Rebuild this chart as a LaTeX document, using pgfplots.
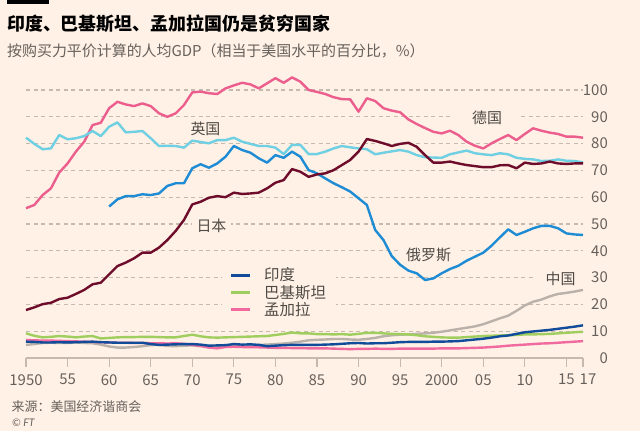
\documentclass[border=0pt]{standalone}
\usepackage{fontspec}
\setmainfont{Noto Sans CJK SC}
\newfontfamily\latinfont{Lato}
\usepackage{pgfplots}
\usepackage{pgfplotstable}
\pgfplotsset{compat=1.18}
\definecolor{bg}{HTML}{FFF1E5}
\definecolor{gridc}{HTML}{C6BAAF}
\definecolor{tickc}{HTML}{C6BAAF}
\definecolor{labc}{HTML}{66605C}
\definecolor{annc}{HTML}{4F4A46}
\definecolor{cde}{HTML}{EB5E8D}
\definecolor{cbd}{HTML}{F06AA0}
\definecolor{cuk}{HTML}{6FCFE3}
\definecolor{cru}{HTML}{1E8BD5}
\definecolor{cjp}{HTML}{6E0C2C}
\definecolor{cin}{HTML}{114C9A}
\definecolor{cpk}{HTML}{A0CE5E}
\definecolor{ccn}{HTML}{B9B1AA}

\pgfplotstableread{
year de uk jp ru in pk bd cn
1950 55.9 82.2 17.9 nan 6.1 9.2 6.7 4.9
1951 57.1 79.9 18.9 nan 6.0 8.3 6.6 5.2
1952 60.8 77.9 20.1 nan 5.8 7.7 6.5 5.6
1953 63.3 78.2 20.6 nan 5.8 7.9 6.5 5.7
1954 69.2 83.2 22.0 nan 5.9 8.2 6.4 5.6
1955 72.6 81.6 22.5 nan 5.8 8.0 6.3 5.6
1956 77.0 82.0 23.9 nan 5.9 7.7 6.2 5.8
1957 80.7 82.8 25.4 nan 6.0 8.0 6.1 5.6
1958 86.9 84.7 27.5 nan 6.1 8.2 6.0 5.5
1959 87.8 82.8 28.1 nan 5.9 7.3 5.9 5.0
1960 93.2 86.3 31.2 56.5 5.8 7.5 5.8 4.3
1961 95.6 87.9 34.3 59.2 5.7 7.7 5.7 3.9
1962 94.6 84.2 35.6 60.4 5.7 7.8 5.7 3.9
1963 94.0 84.4 37.2 60.4 5.7 7.8 5.6 4.1
1964 95.0 84.7 39.3 61.1 5.7 7.9 5.6 4.4
1965 94.0 82.0 39.3 60.8 5.2 7.9 5.5 4.8
1966 91.3 79.1 41.2 61.4 4.9 7.8 5.5 4.9
1967 90.0 79.2 44.0 64.2 5.0 7.7 5.4 4.5
1968 91.3 79.1 47.4 65.2 5.1 7.7 5.5 4.4
1969 94.4 78.5 51.5 65.2 5.2 8.2 5.3 4.6
1970 99.1 81.1 57.3 70.8 5.2 8.7 4.9 4.7
1971 99.4 80.6 58.3 72.3 5.0 8.1 4.5 4.4
1972 98.8 80.1 59.8 71.0 4.6 7.7 3.9 4.3
1973 98.5 81.3 60.4 72.6 4.7 7.6 3.6 4.4
1974 100.6 81.3 60.0 75.1 4.8 7.7 4.1 4.4
1975 101.7 82.2 61.7 79.1 5.2 7.8 4.2 4.5
1976 102.7 80.7 61.2 77.6 5.0 7.9 4.1 4.4
1977 102.1 79.9 61.4 76.6 5.1 8.0 4.0 4.6
1978 100.6 79.1 61.7 74.5 4.9 8.1 4.0 4.9
1979 102.5 79.1 63.3 72.9 4.4 8.2 3.9 5.0
1980 104.4 78.5 65.4 75.7 4.6 8.6 3.8 5.2
1981 102.7 76.1 66.4 74.7 4.8 9.0 3.8 5.4
1982 104.7 79.5 70.5 77.0 4.9 9.5 3.7 5.7
1983 103.1 79.5 69.5 75.1 4.9 9.2 3.7 6.1
1984 100.0 76.1 67.6 70.1 4.9 9.2 3.6 6.6
1985 99.3 76.1 68.5 68.9 4.9 8.9 3.6 6.8
1986 98.5 77.0 68.9 67.0 5.0 8.9 3.6 6.9
1987 97.3 78.2 70.1 65.2 5.1 8.8 3.5 7.1
1988 96.6 79.1 72.0 63.7 5.3 8.9 3.4 7.1
1989 96.5 78.6 73.9 62.1 5.5 8.7 3.3 6.9
1990 91.9 78.2 77.0 59.6 5.6 9.0 3.4 6.8
1991 96.9 77.9 81.7 57.1 5.4 9.4 3.4 7.1
1992 95.9 76.0 81.0 47.8 5.5 9.4 3.5 7.5
1993 93.2 76.6 80.1 44.0 5.5 9.2 3.4 8.1
1994 92.3 77.1 79.1 38.0 5.7 9.0 3.4 8.5
1995 91.7 77.6 79.9 34.8 5.9 8.9 3.5 8.7
1996 89.0 77.0 80.3 32.6 6.0 8.8 3.5 8.8
1997 87.3 75.7 78.8 31.6 6.0 8.5 3.5 9.0
1998 85.8 74.9 75.7 29.1 6.0 8.1 3.5 9.2
1999 84.4 74.8 72.9 29.7 6.1 7.9 3.5 9.4
2000 83.8 74.7 72.9 31.6 6.1 7.7 3.6 9.8
2001 84.8 76.0 73.3 33.2 6.2 7.6 3.6 10.3
2002 83.2 76.7 72.6 34.4 6.3 7.6 3.6 10.8
2003 80.7 77.4 72.0 36.3 6.6 7.8 3.7 11.3
2004 79.2 76.4 71.6 37.8 6.9 8.0 3.8 11.8
2005 78.2 76.0 71.2 39.3 7.2 8.2 3.9 12.6
2006 80.1 75.7 71.2 41.9 7.6 8.3 4.1 13.7
2007 81.7 76.4 71.9 45.0 8.1 8.4 4.3 14.8
2008 83.2 76.0 72.0 48.0 8.4 8.5 4.6 15.8
2009 81.3 74.7 70.8 45.9 9.0 8.6 4.8 17.6
2010 83.6 74.3 72.9 47.1 9.6 8.8 5.0 19.6
2011 85.7 74.1 72.4 48.4 9.9 8.8 5.2 21.0
2012 84.8 73.5 72.6 49.3 10.2 8.9 5.4 21.8
2013 84.1 73.6 73.3 49.3 10.5 9.0 5.5 23.0
2014 83.6 74.1 72.6 48.4 10.9 9.2 5.7 23.9
2015 82.6 73.6 72.4 46.5 11.3 9.4 5.9 24.3
2016 82.6 73.5 72.6 46.1 11.7 9.6 6.1 24.8
2017 82.2 73.0 72.6 45.9 12.2 9.8 6.3 25.4
}\gdp

\begin{document}
\begin{tikzpicture}[x=1bp,y=1bp]
\fill[bg] (0,0) rectangle (640,431);
\useasboundingbox (0,0) rectangle (640,431);
% grid, baseline and x ticks, drawn under the axis
\foreach \v in {10,20,...,100}
  \draw[gridc, line width=1.2bp, dash pattern=on 4bp off 3.5bp] (26,{73+\v*2.68}) -- (583,{73+\v*2.68});
\draw[gridc, line width=1.2bp] (26,73) -- (583,73);
\foreach \yr in {1950,1955,...,2015,2017}
  \draw[tickc, line width=1.2bp] ({26+(\yr-1950)*8.31343},73) -- ++(0,-9);
% gaps in the grid behind the legend and the labels
\fill[bg] (222,109) rectangle (336,168);
\fill[bg] (192,197) rectangle (231,214);
\fill[bg] (453,308) rectangle (518,320);
\fill[bg] (398,174) rectangle (460,186);
\fill[bg] (533,147) rectangle (585,159);
\fill[black] (7,427) rectangle (49,431);
\node[anchor=west, inner sep=0, font=\fontsize{18}{20}\selectfont\bfseries] at (7,407) {印度、巴基斯坦、孟加拉国仍是贫穷国家};
\node[anchor=west, inner sep=0, text=labc, font=\fontsize{15}{17}\selectfont] at (7,380) {按购买力平价计算的人均GDP（相当于美国水平的百分比，\%）};
\node[anchor=west, inner sep=0, text=labc, font=\fontsize{13}{15}\selectfont] at (11.5,24.3) {来源：美国经济谐商会};
\node[anchor=west, inner sep=0, text=labc, font=\fontsize{10.5}{12}\selectfont\latinfont\itshape] at (12,8.3) {© FT};
\begin{axis}[
  at={(26bp,73bp)}, anchor=south west,
  scale only axis, width=557bp, height=284.08bp,
  xmin=1950, xmax=2017, ymin=0, ymax=106,
  axis line style={draw=none},
  major tick length=0pt,
  xtick={1950,1955,...,2015},
  xticklabels={1950,55,60,65,70,75,80,85,90,95,2000,05,10,15},
  extra x ticks={2017},
  extra x tick labels={17},
  extra x tick style={xticklabel style={xshift=5bp}},
  xticklabel style={inner sep=0pt, anchor=north, yshift=-16bp},
  ytick={0,10,...,100},
  yticklabel pos=right,
  /pgf/number format/assume math mode=true,
  tick label style={font=\fontsize{15}{15}\selectfont, text=labc},
  yticklabel style={anchor=east, inner sep=0pt, xshift=25bp},
  unbounded coords=jump,
  clip=false,
  every axis plot/.append style={line width=2.4bp, line join=round},
  reverse legend,
  legend style={at={(0.3555,0.329)}, anchor=north west, draw=none, fill=none,
    font=\fontsize{15.5}{16}\selectfont, text=annc, row sep=2.8bp,
    inner xsep=5bp, inner ysep=3bp, nodes={inner sep=0pt},
    /tikz/every odd column/.append style={column sep=13bp}},
  legend cell align=left,
  legend image code/.code={\draw[#1, line width=3bp] (0bp,0bp) -- (19bp,0bp);},
]
\node[inner sep=0pt, text=annc, font=\fontsize{15}{15}\selectfont] at (axis cs:1971.59,85.6) {英国};
\node[inner sep=0pt, text=annc, font=\fontsize{15}{15}\selectfont] at (axis cs:1972.31,49.4) {日本};
\node[inner sep=0pt, text=annc, font=\fontsize{15}{15}\selectfont] at (axis cs:2005.46,89.7) {德国};
\node[inner sep=0pt, text=annc, font=\fontsize{15}{15}\selectfont] at (axis cs:1998.42,38.6) {俄罗斯};
\node[inner sep=0pt, text=annc, font=\fontsize{15}{15}\selectfont] at (axis cs:2014.30,29.7) {中国};
\addplot[ccn, forget plot] table[x=year,y=cn] {\gdp};
\addplot[cbd] table[x=year,y=bd] {\gdp};
\addlegendentry{孟加拉}
\addplot[cpk] table[x=year,y=pk] {\gdp};
\addlegendentry{巴基斯坦}
\addplot[cin] table[x=year,y=in] {\gdp};
\addlegendentry{印度}
\addplot[cde, forget plot] table[x=year,y=de] {\gdp};
\addplot[cuk, forget plot] table[x=year,y=uk] {\gdp};
\addplot[cru, forget plot] table[x=year,y=ru] {\gdp};
\addplot[cjp, forget plot] table[x=year,y=jp] {\gdp};
\end{axis}
\end{tikzpicture}
\end{document}
